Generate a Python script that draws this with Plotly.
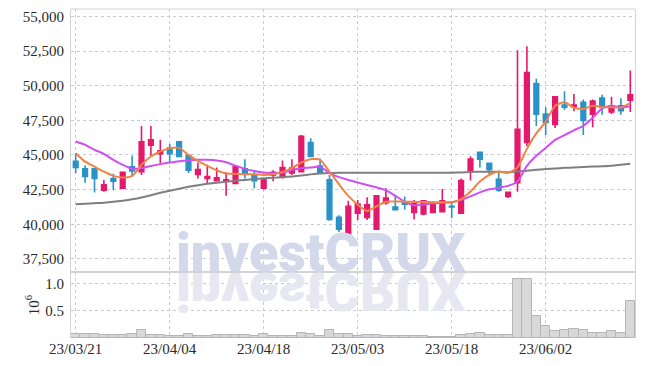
import plotly.graph_objects as go

# ---- data ----
dates = [
    "23/03/21", "23/03/22", "23/03/23", "23/03/24", "23/03/27", "23/03/28", "23/03/29", "23/03/30", "23/03/31", "23/04/03",
    "23/04/04", "23/04/05", "23/04/06", "23/04/07", "23/04/10", "23/04/11", "23/04/12", "23/04/13", "23/04/14", "23/04/17",
    "23/04/18", "23/04/19", "23/04/20", "23/04/21", "23/04/24", "23/04/25", "23/04/26", "23/04/27", "23/04/28", "23/05/02",
    "23/05/03", "23/05/04", "23/05/08", "23/05/09", "23/05/10", "23/05/11", "23/05/12", "23/05/15", "23/05/16", "23/05/17",
    "23/05/18", "23/05/19", "23/05/22", "23/05/23", "23/05/24", "23/05/25", "23/05/26", "23/05/30", "23/05/31", "23/06/01",
    "23/06/02", "23/06/05", "23/06/07", "23/06/08", "23/06/09", "23/06/12", "23/06/13", "23/06/14", "23/06/15", "23/06/16",
]

opens = [
    44550, 44000, 44000, 42450, 43300, 42600, 44150, 43800, 45700, 45100,
    45500, 45950, 44950, 43600, 43300, 43150, 43100, 42950, 44000, 43550,
    42600, 43550, 43400, 43700, 43800, 45900, 44200, 43200, 40500, 39250,
    40800, 40500, 39650, 41550, 41250, 41550, 40850, 40750, 40850, 40900,
    41300, 40800, 43900, 45200, 44400, 43250, 42000, 43000, 45900, 50150,
    47950, 47200, 48600, 48500, 48800, 47950, 49100, 48100, 48550, 48950,
]
highs = [
    45150, 44250, 44050, 43200, 43650, 43800, 44950, 47100, 47100, 46100,
    45800, 46000, 45000, 44450, 44300, 44100, 43750, 44200, 44700, 43900,
    43350, 43900, 44600, 44700, 46450, 46200, 44750, 43550, 40650, 41700,
    41750, 41950, 42100, 42600, 42100, 42000, 41750, 41750, 41650, 42550,
    41650, 43300, 44900, 45250, 44450, 43700, 42350, 52550, 52850, 50500,
    48450, 49250, 49600, 49400, 49000, 49000, 49350, 49200, 49100, 51100,
]
lows = [
    43700, 43000, 42300, 42350, 42450, 42550, 43450, 43550, 44950, 44400,
    44400, 44850, 43700, 43300, 42950, 43100, 42050, 42900, 43300, 42600,
    42500, 43100, 43300, 43550, 43750, 44850, 43650, 40250, 39450, 39200,
    40300, 40300, 39600, 41400, 41000, 41050, 40350, 40650, 40800, 40880,
    40450, 40750, 43150, 44100, 43600, 42350, 41900, 42350, 45650, 47100,
    46450, 46950, 48250, 48150, 46450, 47000, 47900, 47950, 47900, 48100,
]
closes = [
    44100, 43450, 43300, 42850, 43100, 43750, 43850, 45950, 46100, 45300,
    45100, 44900, 43900, 43950, 43450, 43350, 43200, 44150, 43650, 43150,
    43300, 43750, 44100, 44050, 46350, 44900, 43700, 40350, 39650, 41300,
    41450, 41400, 42050, 41900, 41050, 41450, 41500, 41700, 41400, 41700,
    41250, 43150, 44700, 44700, 43950, 42450, 42300, 46850, 50950, 47950,
    47350, 49200, 48450, 48600, 47500, 48900, 48450, 48550, 48200, 49350,
]

ma_short = [  # orange line
    45130, 44520, 44160, 43800, 43490, 43370, 43490, 44290, 44890, 45250,
    45480, 45510, 45010, 44570, 44210, 43890, 43670, 43640, 43610, 43610,
    43560, 43610, 43780, 44050, 44450, 44700, 44650, 43800, 42900, 42050,
    41420, 40950, 41300, 41630, 41650, 41630, 41610, 41610, 41590, 41590,
    41590, 41810, 42360, 43080, 43560, 43800, 43710, 44110, 45440, 46560,
    47390, 48550, 48800, 48420, 48320, 48550, 48450, 48450, 48420, 48740,
]
ma_mid = [  # magenta line
    45970, 45730, 45370, 45080, 44650, 44290, 44000, 44050, 44210, 44340,
    44450, 44550, 44620, 44650, 44650, 44600, 44480, 44230, 44000, 43850,
    43730, 43690, 43730, 43920, 44050, 44090, 44160, 43690, 43400, 43200,
    43010, 42840, 42670, 42460, 42050, 41630, 41360, 41430, 41520, 41560,
    41590, 41760, 42010, 42300, 42520, 42640, 42770, 43080, 44210, 44940,
    45510, 46090, 46430, 46780, 47100, 47680, 48370, 48550, 48440, 48500,
]
ma_long = [  # gray line
    41450, 41480, 41520, 41560, 41620, 41700, 41800, 41930, 42100, 42270,
    42420, 42570, 42700, 42820, 42920, 43000, 43070, 43140, 43200, 43260,
    43310, 43360, 43390, 43440, 43520, 43600, 43670, 43700, 43710, 43710,
    43710, 43710, 43710, 43720, 43720, 43720, 43720, 43720, 43720, 43720,
    43720, 43740, 43770, 43790, 43800, 43790, 43760, 43800, 43870, 43930,
    43980, 44030, 44070, 44100, 44130, 44160, 44190, 44230, 44290, 44360,
]
volume_millions = [
    0.067, 0.08, 0.08, 0.05, 0.05, 0.05, 0.08, 0.15, 0.05, 0.06,
    0.045, 0.045, 0.08, 0.045, 0.045, 0.06, 0.06, 0.06, 0.06, 0.045,
    0.065, 0.03, 0.045, 0.045, 0.10, 0.065, 0.045, 0.14, 0.08, 0.08,
    0.04, 0.06, 0.05, 0.03, 0.03, 0.04, 0.04, 0.04, 0.02, 0.02,
    0.02, 0.06, 0.07, 0.09, 0.05, 0.05, 0.06, 1.085, 1.085, 0.40,
    0.22, 0.13, 0.14, 0.16, 0.14, 0.10, 0.10, 0.12, 0.09, 0.67,
]

x_tick_labels = ["23/03/21", "23/04/04", "23/04/18", "23/05/03", "23/05/18", "23/06/02"]
price_ticks = [37500, 40000, 42500, 45000, 47500, 50000, 52500, 55000]
volume_ticks = [0.5, 1.0]
volume_tick_text = ["0.5", "1.0"]
watermark = "investCRUX"

# ---- styles ----
UP = "#e5196b"
DOWN = "#2b92c8"
GRID = "#c6c9de"
FRAME = "#d2d3db"
FONT = "Liberation Sans Narrow"
TXT = "#2a2a2a"
WM_FONT = "Roboto"

fig = go.Figure()

fig.add_trace(go.Candlestick(
    x=dates, open=opens, high=highs, low=lows, close=closes,
    increasing=dict(line=dict(color=UP, width=1.6), fillcolor=UP),
    decreasing=dict(line=dict(color=DOWN, width=1.6), fillcolor=DOWN),
    showlegend=False, xaxis="x", yaxis="y",
))
fig.add_trace(go.Scatter(x=dates, y=ma_long, mode="lines",
                         line=dict(color="#7f7f7f", width=2, shape="spline", smoothing=0.6),
                         showlegend=False, yaxis="y"))
fig.add_trace(go.Scatter(x=dates, y=ma_mid, mode="lines",
                         line=dict(color="#cf4ff0", width=2, shape="spline", smoothing=0.6),
                         showlegend=False, yaxis="y"))
fig.add_trace(go.Scatter(x=dates, y=ma_short, mode="lines",
                         line=dict(color="#ef8346", width=2, shape="spline", smoothing=0.6),
                         showlegend=False, yaxis="y"))
fig.add_trace(go.Bar(x=dates, y=volume_millions, yaxis="y2",
                     marker=dict(color="#d8d8d8", line=dict(color="#b5b5b5", width=1)),
                     showlegend=False))

split = 66 / 329

fig.update_layout(
    width=645, height=366,
    margin=dict(l=71, r=10, t=9, b=28),
    paper_bgcolor="white", plot_bgcolor="white",
    font=dict(family=FONT, size=15, color=TXT),
    bargap=0,
    xaxis=dict(
        type="category", categoryorder="array", categoryarray=dates,
        range=[-0.5, len(dates) - 0.5], anchor="y2",
        tickmode="array", tickvals=x_tick_labels, ticktext=x_tick_labels,
        showgrid=True, gridcolor=GRID, griddash="dot", gridwidth=1,
        showline=False, zeroline=False, ticks="", rangeslider=dict(visible=False),
        tickfont=dict(family=FONT, size=15, color=TXT),
    ),
    yaxis=dict(
        domain=[split, 1], range=[36555, 55535],
        tickmode="array", tickvals=price_ticks, tickformat=",d",
        showgrid=True, gridcolor=GRID, griddash="dot", gridwidth=1,
        showline=True, linecolor=FRAME, linewidth=1, mirror=True,
        zeroline=False, ticks="outside", ticklen=3, tickcolor="rgba(0,0,0,0)",
        tickfont=dict(family=FONT, size=15, color=TXT),
    ),
    yaxis2=dict(
        domain=[0, split], range=[0, 1.206],
        tickmode="array", tickvals=volume_ticks, ticktext=volume_tick_text,
        showgrid=True, gridcolor=GRID, griddash="dot", gridwidth=1,
        showline=True, linecolor=FRAME, linewidth=1, mirror=True,
        zeroline=False, ticks="outside", ticklen=3, tickcolor="rgba(0,0,0,0)",
        tickfont=dict(family=FONT, size=15, color=TXT),
        title=dict(text="10<sup>6</sup>", standoff=2,
                   font=dict(family=FONT, size=15, color=TXT)),
    ),
    shapes=[
        dict(type="line", xref="paper", yref="y domain", x0=0, x1=1, y0=1, y1=1,
             line=dict(color=FRAME, width=1)),
        dict(type="line", xref="paper", yref="y domain", x0=0, x1=1, y0=0, y1=0,
             line=dict(color="#c4c4c8", width=1.5)),
    ],
    annotations=[
        dict(text=watermark, xref="paper", yref="paper", x=0.444, y=(338 - 285) / 329,
             xanchor="center", yanchor="bottom", showarrow=False, borderpad=0,
             font=dict(family=WM_FONT, size=54, color="#d3d9ea", weight=900)),
        dict(text=watermark, xref="paper", yref="paper", x=0.444, y=(338 - 287) / 329,
             xanchor="center", yanchor="bottom", showarrow=False, borderpad=0,
             font=dict(family=WM_FONT, size=54, color="#e7e7f1", weight=900)),
    ],
)

post = """
document.body.style.margin = '0';
var gd = document.getElementById('{plot_id}');
var t = gd.querySelector('g.annotation[data-index="1"] text.annotation-text');
if (t) {
  var yb = parseFloat(t.getAttribute('y')) || 0;
  t.setAttribute('transform', 'translate(0,' + (2 * yb) + ') scale(1,-1)');
}
"""

fig.write_html("out.html", config={"responsive": False, "displayModeBar": False}, post_script=post)
